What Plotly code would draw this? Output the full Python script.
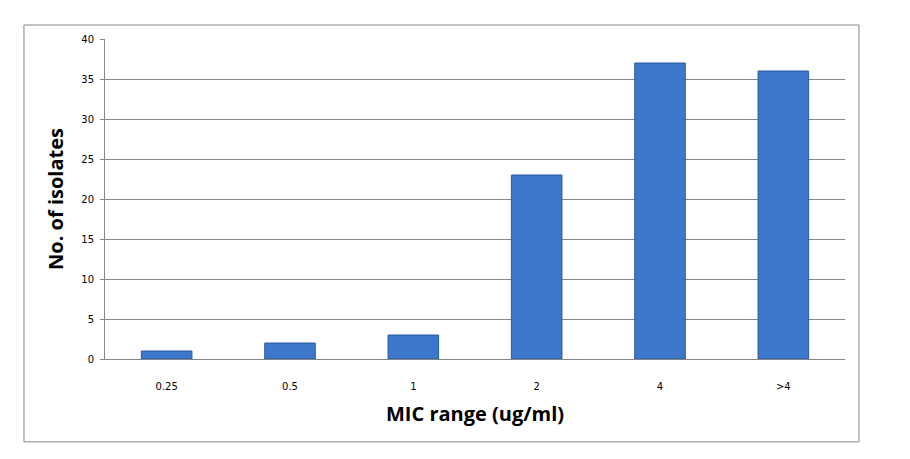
import plotly.graph_objects as go

categories = ["0.25", "0.5", "1", "2", "4", ">4"]
isolates = [1, 2, 3, 23, 37, 36]
y_ticks = [0, 5, 10, 15, 20, 25, 30, 35, 40]

fig = go.Figure()
fig.add_trace(go.Bar(
    x=categories, y=isolates,
    marker=dict(color="#3d77cb", line=dict(color="#2b5a9c", width=1)),
    width=0.41,
))

fig.update_layout(
    width=910, height=459,
    margin=dict(l=105, r=65, t=39, b=100),
    paper_bgcolor="white", plot_bgcolor="white",
    showlegend=False,
    font=dict(family="DejaVu Sans", size=10, color="#000000"),
    xaxis=dict(
        type="category",
        showline=True, linecolor="#868686", linewidth=1,
        showgrid=False, ticks="", ticklabelstandoff=18,
        tickfont=dict(family="DejaVu Sans", size=10),
        title=dict(text="MIC range (ug/ml)", standoff=15,
                   font=dict(family="Open Sans", size=20, color="#000", weight="bold")),
    ),
    yaxis=dict(
        range=[0, 40], tickvals=y_ticks,
        showline=True, linecolor="#868686", linewidth=1,
        showgrid=True, gridcolor="#868686", gridwidth=1,
        ticks="outside", ticklen=4, tickcolor="#868686",
        ticklabelstandoff=4,
        tickfont=dict(family="DejaVu Sans", size=10),
        zeroline=False,
        title=dict(text="No. of isolates", standoff=12,
                   font=dict(family="Open Sans", size=20, color="#000", weight="bold")),
    ),
    shapes=[dict(type="rect", xref="paper", yref="paper",
                 x0=-0.1095, x1=1.0189, y0=-0.259, y1=1.04375,
                 line=dict(color="#868686", width=1), layer="below")],
)

fig.write_html("out.html")
